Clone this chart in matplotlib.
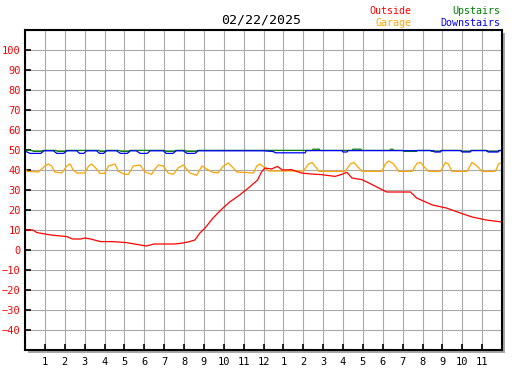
import numpy as np
from matplotlib import pyplot as plt
from matplotlib import rcParams
from matplotlib.patches import Rectangle

rcParams["font.family"] = "DejaVu Sans Mono"

W, H = 527, 370

title = "02/22/2025"
hour_labels = ["1", "2", "3", "4", "5", "6", "7", "8", "9", "10", "11", "12",
               "1", "2", "3", "4", "5", "6", "7", "8", "9", "10", "11"]
y_ticks = list(range(-40, 101, 10))

# outside temperature
out_h = [0, 0.4, 0.6, 1.3, 2.1, 2.4, 2.8, 3.0, 3.3, 3.8, 4.4, 5.1, 5.8, 6.1, 6.5,
         7.5, 7.8, 8.2, 8.55, 8.8, 9.06, 9.46, 9.96, 10.3, 10.8, 11.3, 11.7, 11.9,
         12.07, 12.4, 12.7, 12.95, 13.4, 13.9, 14.4, 14.9, 15.6, 15.9, 16.2, 16.45,
         16.95, 17.2, 17.5, 18.2, 18.8, 19.4, 19.7, 20.5, 21.2, 21.9, 22.5, 23.2, 24]
out_v = [10, 10, 8.7, 7.5, 6.7, 5.5, 5.5, 6, 5.5, 4.2, 4.2, 3.7, 2.5, 2, 3,
         3, 3.3, 4, 5, 8.5, 11, 16, 21, 24, 27.5, 31.5, 35, 39,
         41, 40.5, 41.8, 40, 40.2, 38.5, 38, 37.7, 36.8, 37.7, 38.8, 36,
         35.2, 34, 32.5, 29, 29, 29, 26, 22.5, 21, 18.5, 16.5, 15, 14]

# garage
gar_h = [0, 0.1, 0.67, 1.0, 1.17, 1.34, 1.5, 1.85, 2.1, 2.26, 2.43, 2.6, 3.0, 3.2,
         3.35, 3.6, 3.77, 4.0, 4.2, 4.53, 4.7, 5.03, 5.2, 5.45, 5.79, 6.04, 6.37,
         6.5, 6.7, 6.96, 7.2, 7.46, 7.7, 7.96, 8.3, 8.64, 8.9, 9.14, 9.4, 9.7, 9.98,
         10.23, 10.48, 10.65, 11.49, 11.66, 11.82, 12.07, 12.26, 14.0, 14.27, 14.44,
         14.6, 14.8, 16.1, 16.37, 16.54, 16.8, 16.96, 17.96, 18.13, 18.3, 18.55, 18.8,
         19.47, 19.72, 19.9, 20.14, 20.3, 20.9, 21.15, 21.3, 21.48, 22.24, 22.49,
         22.74, 23.0, 23.66, 23.83, 24]
gar_v = [41, 39.3, 39, 42, 43, 42, 39, 38.5, 42, 43, 40, 38.5, 38.5, 42,
         43, 40.5, 38.3, 38.3, 42, 43, 39.3, 37.8, 37.8, 42, 42.5, 39, 37.8,
         40, 42.5, 42, 38.5, 37.8, 41, 42.5, 38.5, 37.3, 42, 40.5, 39, 38.5, 42,
         43.5, 41, 39, 38.5, 42, 43, 41, 39.5, 39.5, 43, 43.8,
         41.8, 39.3, 39.3, 43, 43.8, 41, 39.3, 39.3, 43, 44.5, 43, 39.3,
         39.3, 43.3, 43.8, 41, 39.3, 39.3, 43.8, 43, 39.3, 39.3, 43.8,
         42, 39.3, 39.3, 43, 43.8]

# upstairs
up_h = [0, 0.3, 0.45, 0.8, 0.95, 1.55, 1.65, 2.0, 2.1, 3.7, 3.8, 4.0, 4.1, 4.7,
        4.85, 5.2, 5.3, 7.0, 7.1, 7.5, 7.6, 8.05, 8.15, 8.6, 8.7, 14.45, 14.5,
        14.8, 14.85, 16.45, 16.5, 16.9, 16.95, 18.35, 18.4, 18.5, 18.55, 19.0, 19.05,
        19.7, 19.75, 20.4, 20.45, 20.9, 20.95, 21.9, 21.95, 22.4, 22.45, 23.2, 23.25,
        23.8, 23.85, 24]
up_v = [49.8, 49.8, 49.3, 49.3, 49.8, 49.8, 49.3, 49.3, 49.8, 49.8, 49.3, 49.3, 49.8, 49.8,
        49.3, 49.3, 49.8, 49.8, 49.3, 49.3, 49.8, 49.8, 49.3, 49.3, 49.8, 49.8, 50.4,
        50.4, 49.8, 49.8, 50.4, 50.4, 49.8, 49.8, 50.4, 50.4, 49.8, 49.8, 49.3,
        49.3, 49.8, 49.8, 49.3, 49.3, 49.8, 49.8, 49.3, 49.3, 49.8, 49.8, 49.3,
        49.3, 49.8, 49.8]

# downstairs
dn_h = [0, 0.1, 0.25, 0.8, 0.95, 1.43, 1.6, 1.95, 2.1, 2.6, 2.75, 2.95, 3.1, 3.6,
        3.75, 3.95, 4.1, 4.6, 4.8, 5.15, 5.3, 5.6, 5.8, 6.15, 6.3, 6.96, 7.1, 7.45,
        7.6, 7.97, 8.15, 8.55, 8.72, 12.0, 12.5, 12.6, 14.1, 14.15, 15.95, 16.0,
        16.2, 16.25, 20.55, 20.6, 20.9, 20.95, 21.95, 22.0, 22.4, 22.45, 23.25, 23.3,
        23.8, 23.85, 24]
dn_v = [49.3, 49.0, 48.3, 48.3, 49.6, 49.6, 48.3, 48.3, 49.6, 49.6, 48.3, 48.3, 49.6, 49.6,
        48.3, 48.3, 49.6, 49.6, 48.3, 48.3, 49.6, 49.6, 48.3, 48.3, 49.6, 49.6, 48.3, 48.3,
        49.6, 49.6, 48.3, 48.3, 49.6, 49.6, 49.2, 48.6, 48.6, 49.7, 49.7, 49.0,
        49.0, 49.7, 49.7, 49.0, 49.0, 49.7, 49.7, 49.0, 49.0, 49.7, 49.7, 49.0,
        49.0, 49.7, 49.7]


fig = plt.figure(figsize=(W / 100, H / 100), dpi=100)
x0, y0, x1, y1 = 25, 30, 502, 350
ax = fig.add_axes([x0 / W, 1 - y1 / H, (x1 - x0) / W, (y1 - y0) / H])

# gray drop shadow right and below the plot box
fig.patches.append(Rectangle(((x0 + 3) / W, 1 - (y1 + 3) / H), (x1 - x0) / W, (y1 - y0) / H,
                             transform=fig.transFigure, facecolor="#a8a8a8",
                             edgecolor="none", zorder=-1))

ax.set_xlim(0, 24)
ax.set_ylim(-50, 110)
ax.set_xticks(range(0, 25))
ax.set_xticklabels([""] + hour_labels + [""])
ax.set_yticks(y_ticks)
ax.set_yticks(range(-50, 111, 10), minor=True)
ax.grid(True, which="both", axis="y", color="#a8a8a8", linewidth=0.8)
ax.grid(True, axis="x", color="#a8a8a8", linewidth=0.8)
ax.set_axisbelow(True)

ax.tick_params(axis="y", which="major", direction="in", length=4, width=1.2,
               colors="black", labelcolor="red", labelsize=7.5, pad=3)
ax.tick_params(axis="y", which="minor", length=0)
ax.tick_params(axis="x", direction="in", length=4, width=1.2, labelsize=7.5, pad=5)
for s in ax.spines.values():
    s.set_linewidth(1.5)
    s.set_color("black")

lw = 0.9
ax.plot(up_h, up_v, color="#008000", lw=lw)
ax.plot(dn_h, dn_v, color="#0000ff", lw=lw)
ax.plot(gar_h, gar_v, color="#ffa500", lw=lw)
ax.plot(out_h, out_v, color="#ff0000", lw=lw)

fig.text(261 / W, 1 - 20 / H, title, ha="center", va="center", fontsize=9.5)
fig.text(411 / W, 1 - 11 / H, "Outside", ha="right", va="center", fontsize=7.2, color="#ff0000")
fig.text(411 / W, 1 - 23 / H, "Garage", ha="right", va="center", fontsize=7.2, color="#ffa500")
fig.text(500 / W, 1 - 11 / H, "Upstairs", ha="right", va="center", fontsize=7.2, color="#008000")
fig.text(500 / W, 1 - 23 / H, "Downstairs", ha="right", va="center", fontsize=7.2, color="#0000ff")

fig.savefig("out.png", dpi=100, facecolor="white")
